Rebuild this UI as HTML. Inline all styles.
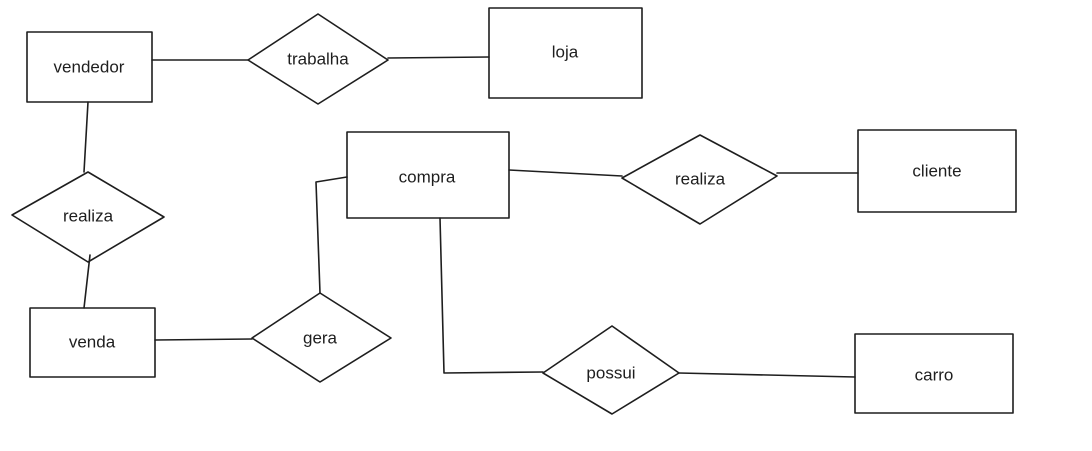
<!DOCTYPE html>
<html><head><meta charset="utf-8"><style>
html,body{margin:0;padding:0;background:#fff;}
svg{display:block;}
text{font-family:"Liberation Sans",sans-serif;font-size:17px;fill:#1e1e1e;text-anchor:middle;dominant-baseline:middle;}
</style></head><body>
<svg width="1092" height="451" viewBox="0 0 1092 451" xmlns="http://www.w3.org/2000/svg">
<rect width="1092" height="451" fill="#fff"/>
<g fill="none" stroke="#1e1e1e" stroke-width="1.6" stroke-linejoin="round" stroke-linecap="round">
<!-- rects -->
<rect x="27" y="32" width="125" height="70"/>
<rect x="489" y="8" width="153" height="90"/>
<rect x="347" y="132" width="162" height="86"/>
<rect x="858" y="130" width="158" height="82"/>
<rect x="30" y="308" width="125" height="69"/>
<rect x="855" y="334" width="158" height="79"/>
<!-- diamonds -->
<polygon points="248,60 318,14 388,60 318,104"/>
<polygon points="622,178 700,135 777,176 700,224"/>
<polygon points="12,215 88,172 164,217 88,262"/>
<polygon points="252,338 320,293 391,338 320,382"/>
<polygon points="543,373 612,326 679,373 612,414"/>
<!-- lines -->
<polyline points="152,60 248,60"/>
<polyline points="388,58 489,57"/>
<polyline points="88,102 84,172"/>
<polyline points="90,255 84,308"/>
<polyline points="155,340 252,339"/>
<polyline points="320,293 316,182 347,177"/>
<polyline points="509,170 622,176"/>
<polyline points="777,173 858,173"/>
<polyline points="440,218 444,373 543,372"/>
<polyline points="679,373 855,377"/>
</g>
<text x="89" y="68">vendedor</text>
<text x="318" y="60">trabalha</text>
<text x="565" y="53">loja</text>
<text x="427" y="178">compra</text>
<text x="700" y="180">realiza</text>
<text x="937" y="172">cliente</text>
<text x="88" y="217">realiza</text>
<text x="92" y="343">venda</text>
<text x="320" y="339">gera</text>
<text x="611" y="374">possui</text>
<text x="934" y="376">carro</text>
</svg>
</body></html>
